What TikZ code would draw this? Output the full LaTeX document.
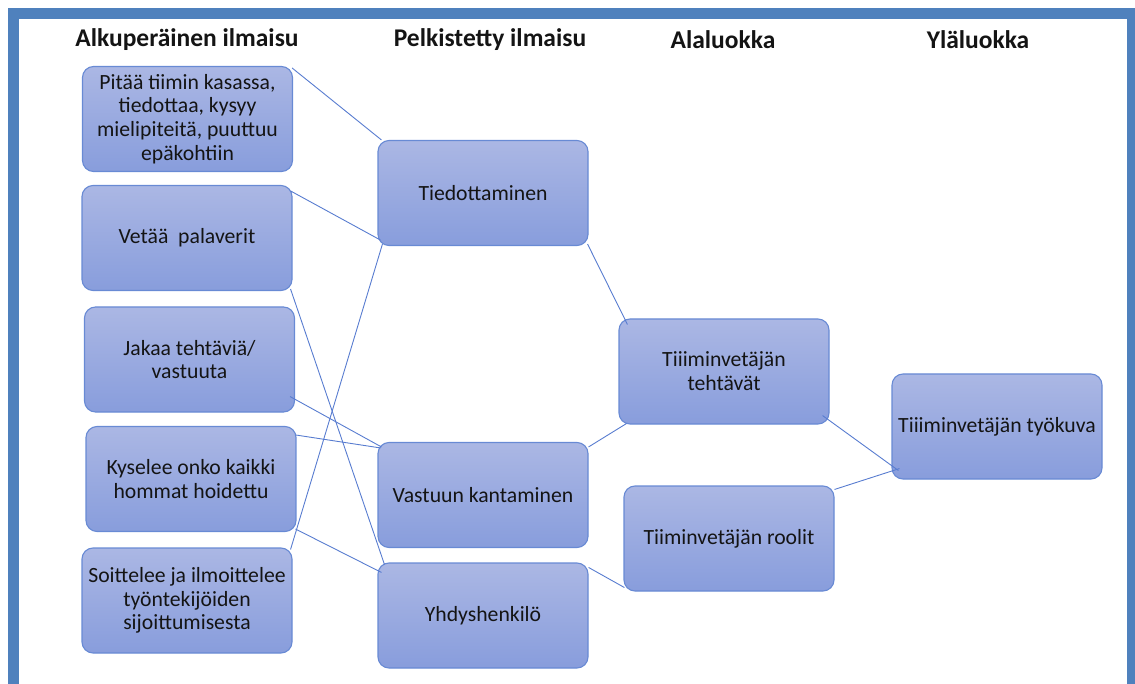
\documentclass[tikz,border=0pt]{standalone}
\usepackage{fontspec}
\setmainfont{Carlito}
\usetikzlibrary{calc}

\definecolor{frameblue}{RGB}{79,129,189}
\definecolor{boxtop}{RGB}{171,183,228}
\definecolor{boxbottom}{RGB}{136,157,220}
\definecolor{boxedge}{RGB}{104,138,212}
\definecolor{linkblue}{RGB}{88,124,208}
\definecolor{ink}{RGB}{20,20,20}

\tikzset{
  card/.style={draw=boxedge, line width=1.1pt, rounded corners=11pt,
    top color=boxtop, bottom color=boxbottom,
    minimum width=210pt, minimum height=105pt, inner sep=2pt,
    align=center, text=ink, font=\fontsize{21.7}{23.8}\selectfont},
  heading/.style={text=ink, font=\fontsize{25.5}{30}\selectfont\bfseries},
  link/.style={draw=linkblue, line width=0.9pt}
}

\begin{document}
\begin{tikzpicture}[x=1pt, y=-1pt]
\useasboundingbox (0,0) rectangle (1135,684);
\clip (0,0) rectangle (1135,684);

% outer frame (runs off the lower and right edges)
\draw[frameblue, line width=11pt] (13.5,13.5) rectangle (1132.5,720);

% column headings
\node[heading] (h1) at (187,40) {Alkuperäinen ilmaisu};
\node[heading] (h2) at (490,40) {Pelkistetty ilmaisu};
\node[heading] (h3) at (723,40) {Alaluokka};
\node[heading] (h4) at (978,40) {Yläluokka};

% original expressions
\node[card] (p1) at (187.5,119) {Pitää tiimin kasassa,\\tiedottaa, kysyy\\mielipiteitä, puuttuu\\epäkohtiin};
\node[card] (p2) at (187,238) {Vetää\ \ palaverit};
\node[card] (p3) at (189.5,359.5) {Jakaa tehtäviä/\\vastuuta};
\node[card] (p4) at (191,479) {Kyselee onko kaikki\\hommat hoidettu};
\node[card] (p5) at (187,600.5) {Soittelee ja ilmoittelee\\työntekijöiden\\sijoittumisesta};

% reduced expressions
\node[card] (m1) at (483,193) {Tiedottaminen};
\node[card] (m2) at (483,495) {Vastuun kantaminen};
\node[card] (m3) at (483,615.5) {Yhdyshenkilö};

% subcategories
\node[card] (a1) at (724,371.5) {Tiiiminvetäjän\\tehtävät};
\node[card] (a2) at (729,538.5) {Tiiminvetäjän roolit};

% main category
\node[card] (y1) at (997,426.5) {Tiiiminvetäjän työkuva};

% connectors
\draw[link] ($(p1.north east)+(-1,2)$) -- ($(m1.north west)+(4,0)$);
\draw[link] ($(p2.north east)+(-2,6)$) -- ($(m1.south west)+(3,-6)$);
\draw[link] ($(p2.south east)+(-2,-2)$) -- ($(m3.north west)+(7,2)$);
\draw[link] ($(p3.south east)+(-5,-16)$) -- ($(m2.north west)+(4,5)$);
\draw[link] ($(p4.north east)+(-1,9)$) -- ($(m2.north west)+(3,6)$);
\draw[link] ($(p4.south east)+(-1,-3)$) -- ($(m3.north west)+(4,10)$);
\draw[link] ($(p5.north east)+(-2,2)$) -- ($(m1.south west)+(5,-2)$);
\draw[link] ($(m1.south east)+(-1,-2)$) -- ($(a1.north west)+(9,6)$);
\draw[link] ($(m2.north east)+(0,5)$) -- ($(a1.south west)+(8,-1)$);
\draw[link] ($(m3.north east)+(0,5)$) -- ($(a2.south west)+(1,-4)$);
\draw[link] ($(a1.south east)+(-7,-9)$) -- ($(y1.south west)+(7,-9)$);
\draw[link] ($(a2.north east)+(0,4)$) -- ($(y1.south west)+(8,-11)$);
\end{tikzpicture}
\end{document}
